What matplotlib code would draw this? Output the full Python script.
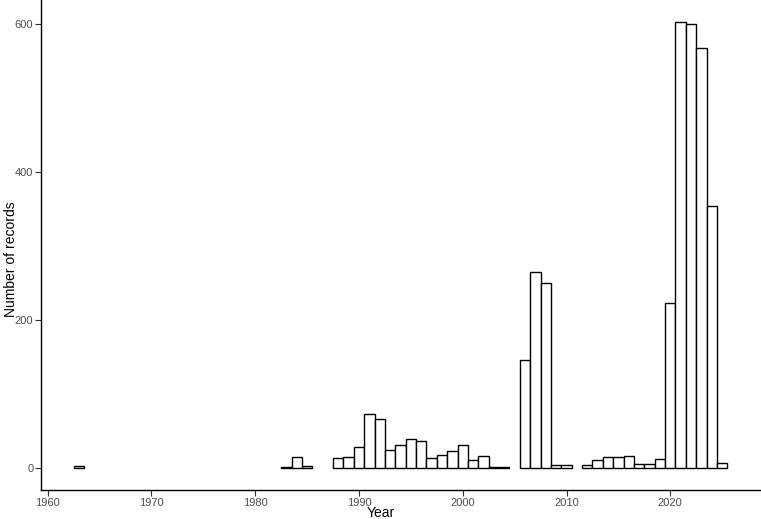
import matplotlib
matplotlib.use("Agg")
import matplotlib.pyplot as plt

years = [1963, 1983, 1984, 1985,
         1988, 1989, 1990, 1991, 1992, 1993, 1994, 1995, 1996, 1997, 1998, 1999,
         2000, 2001, 2002, 2003, 2004,
         2006, 2007, 2008, 2009, 2010,
         2012, 2013, 2014, 2015, 2016, 2017, 2018, 2019,
         2020, 2021, 2022, 2023, 2024, 2025]
counts = [2, 1, 15, 3,
          13, 14, 28, 72, 66, 24, 31, 39, 36, 13, 17, 22,
          31, 10, 16, 1, 1,
          145, 264, 250, 4, 4,
          4, 11, 15, 14, 16, 5, 5, 12,
          222, 602, 600, 567, 354, 7]
xticks = [1960, 1970, 1980, 1990, 2000, 2010, 2020]
yticks = [0, 200, 400, 600]

plt.rcParams['font.family'] = ['Liberation Sans', 'DejaVu Sans']
fig = plt.figure(figsize=(7.61, 5.19), dpi=100)
ax = fig.add_axes([41/761, (519-490)/519, (760-41)/761, 490/519])
ax.bar(years, counts, width=1.0, color='white', edgecolor='black', linewidth=1.0)
ax.set_xlim(1959.35, 2028.65)
ax.set_ylim(-30.1, 632.1)
ax.set_xticks(xticks)
ax.set_yticks(yticks)
for s in ['top', 'right']:
    ax.spines[s].set_visible(False)
for s in ['left', 'bottom']:
    ax.spines[s].set_linewidth(1.0)
    ax.spines[s].set_color('black')
ax.tick_params(axis='both', length=4, width=0.8, color='#333333', labelcolor='#4D4D4D', labelsize=8, pad=1.5)
ax.set_xlabel('Year', fontsize=10, color='black')
ax.set_ylabel('Number of records', fontsize=10, color='black')
ax.xaxis.set_label_coords(0.5, (519-506)/519, transform=fig.transFigure)
ax.yaxis.set_label_coords(18/761, 0.5, transform=fig.transFigure)
fig.savefig('out.png', dpi=100)
